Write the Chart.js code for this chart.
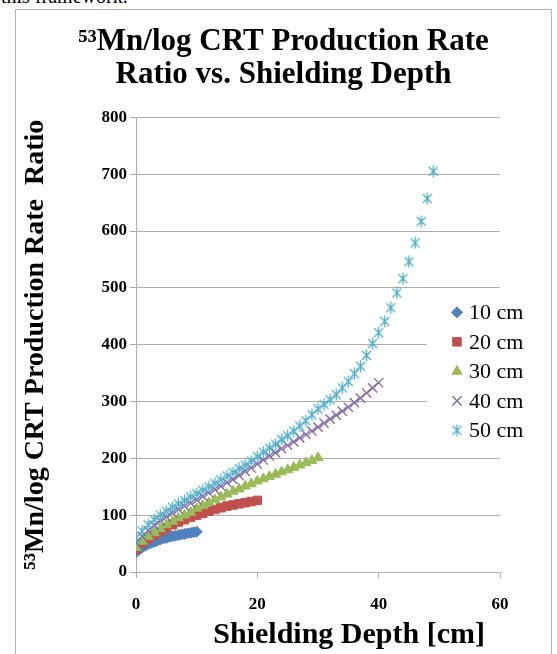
<!DOCTYPE html>
<html lang="en">
<head>
    <meta charset="UTF-8">
    <title>53Mn/log CRT Production Rate Ratio vs. Shielding Depth</title>
    <script src="https://cdn.jsdelivr.net/npm/chart.js"></script>
    <style>
        body {
            margin: 0;
            background: white;
            overflow: hidden;
            width: 557px;
            height: 654px;
            position: relative;
        }
        .prev-text {
            position: absolute;
            left: 1px;
            top: -14px;
            font-family: "Liberation Serif", serif;
            font-size: 20px;
            line-height: 20px;
            color: black;
        }
        .frame {
            position: absolute;
            left: 15px;
            top: 9px;
            width: 535px;
            height: 700px;
            border: 1px solid #b4b4b4;
        }
        canvas {
            position: absolute;
            left: 0;
            top: 0;
        }
    </style>
</head>
<body>
    <div class="prev-text">this framework.</div>
    <div class="frame"></div>
    <canvas id="crtChart" width="557" height="654"></canvas>
    <script>
        // shielding depth [cm] and production rate ratio, one pair of arrays per sample size
        const depth10 = [0, 0.5, 1, 1.5, 2, 2.5, 3, 3.5, 4, 4.5, 5, 5.5, 6, 6.5, 7, 7.5, 8, 8.5, 9, 9.5, 10];
        const ratio10 = [35, 39, 43, 46, 49, 51, 53, 55, 57, 59, 60, 62, 63, 64, 65, 66, 67, 68, 69, 70, 71];

        const depth20 = [0, 1, 2, 3, 4, 5, 6, 7, 8, 9, 10, 11, 12, 13, 14, 15, 16, 17, 18, 19, 20];
        const ratio20 = [40, 50, 58, 65, 71, 77, 83, 88, 92, 96, 100, 103, 107, 110, 113, 116, 118, 120, 122, 124, 126];

        const depth30 = [0, 1, 2, 3, 4, 5, 6, 7, 8, 9, 10, 11, 12, 13, 14, 15, 16, 17, 18, 19, 20,
                         21, 22, 23, 24, 25, 26, 27, 28, 29, 30];
        const ratio30 = [43, 54, 62, 69, 76, 83, 89, 95, 100, 105, 112, 117, 122, 127, 132, 137, 142, 146, 151, 155, 160,
                         164, 168, 172, 176, 180, 184, 188, 192, 196, 201];

        const depth40 = [0, 1, 2, 3, 4, 5, 6, 7, 8, 9, 10, 11, 12, 13, 14, 15, 16, 17, 18, 19, 20,
                         21, 22, 23, 24, 25, 26, 27, 28, 29, 30, 31, 32, 33, 34, 35, 36, 37, 38, 39, 40];
        const ratio40 = [52, 63, 73, 82, 90, 97, 104, 110, 116, 121, 127, 133, 139, 145, 151, 157, 163, 170, 177, 183, 190,
                         197, 204, 210, 217, 223, 229, 236, 242, 248, 255, 262, 269, 276, 283, 290, 298, 306, 315, 324, 333];

        const depth50 = [0, 1, 2, 3, 4, 5, 6, 7, 8, 9, 10, 11, 12, 13, 14, 15, 16, 17, 18, 19, 20,
                         21, 22, 23, 24, 25, 26, 27, 28, 29, 30, 31, 32, 33, 34, 35, 36, 37, 38, 39, 40,
                         41, 42, 43, 44, 45, 46, 47, 48, 49];
        const ratio50 = [60, 72, 83, 92, 100, 107, 114, 120, 126, 132, 138, 144, 150, 156, 162, 169, 175, 182, 188, 195, 203,
                         211, 218, 225, 233, 240, 248, 257, 266, 277, 287, 295, 303, 312, 324, 335, 349, 362, 381, 402, 421,
                         441, 465, 491, 516, 546, 579, 617, 657, 705];

        const seriesLabels = ['10 cm', '20 cm', '30 cm', '40 cm', '50 cm'];
        const xTicks = [0, 20, 40, 60];
        const yTicks = [0, 100, 200, 300, 400, 500, 600, 700, 800];

        const serif = '"Liberation Serif", "Times New Roman", serif';
        const gridGray = '#adadad';

        function toPoints(xs, ys) {
            return xs.map((x, i) => ({ x: x, y: ys[i] }));
        }

        // Excel style asterisk marker: an x with a vertical bar through it
        function asteriskMarker(color) {
            const c = document.createElement('canvas');
            c.width = 13;
            c.height = 13;
            const g = c.getContext('2d');
            g.strokeStyle = color;
            g.lineWidth = 1.3;
            g.beginPath();
            g.moveTo(2, 2); g.lineTo(11, 11);
            g.moveTo(11, 2); g.lineTo(2, 11);
            g.moveTo(6.5, 0.5); g.lineTo(6.5, 12.5);
            g.stroke();
            return c;
        }

        const legendBox = {
            id: 'legendBox',
            afterDatasetsDraw(chart) {
                const c = chart.ctx;
                const area = chart.chartArea;
                const left = area.right - 73;
                const top = area.top + 179;
                c.save();
                c.fillStyle = '#ffffff';
                c.fillRect(left, top, 75, 155);
                chart.data.datasets.forEach((ds, i) => {
                    const y = top + 16 + i * 29.5;
                    c.fillStyle = ds.backgroundColor;
                    c.strokeStyle = ds.borderColor;
                    c.lineWidth = ds.pointBorderWidth;
                    Chart.helpers.drawPoint(c, {
                        pointStyle: ds.pointStyle,
                        radius: ds.pointRadius,
                        borderWidth: ds.pointBorderWidth,
                        rotation: 0
                    }, left + 30, y);
                    c.fillStyle = '#000';
                    c.font = '22px ' + serif;
                    c.textAlign = 'left';
                    c.textBaseline = 'middle';
                    c.fillText(ds.label, left + 42, y + 1);
                });
                c.restore();
            }
        };

        const ctx = document.getElementById('crtChart').getContext('2d');
        const crtChart = new Chart(ctx, {
            type: 'scatter',
            data: {
                datasets: [
                    { label: seriesLabels[0], data: toPoints(depth10, ratio10), pointStyle: 'rectRot', pointRadius: 5.5,
                      backgroundColor: '#4F81BD', borderColor: '#4F81BD', pointBorderWidth: 1, order: 5 },
                    { label: seriesLabels[1], data: toPoints(depth20, ratio20), pointStyle: 'rect', pointRadius: 6,
                      backgroundColor: '#C0504D', borderColor: '#C0504D', pointBorderWidth: 1, order: 4 },
                    { label: seriesLabels[2], data: toPoints(depth30, ratio30), pointStyle: 'triangle', pointRadius: 5.8,
                      backgroundColor: '#9BBB59', borderColor: '#9BBB59', pointBorderWidth: 1, order: 3 },
                    { label: seriesLabels[3], data: toPoints(depth40, ratio40), pointStyle: 'crossRot', pointRadius: 6.5,
                      backgroundColor: '#8064A2', borderColor: '#8064A2', pointBorderWidth: 1.3, order: 2 },
                    { label: seriesLabels[4], data: toPoints(depth50, ratio50), pointStyle: asteriskMarker('#4BACC6'), pointRadius: 6,
                      backgroundColor: '#4BACC6', borderColor: '#4BACC6', pointBorderWidth: 1.3, order: 1 }
                ]
            },
            options: {
                responsive: false,
                animation: false,
                layout: { padding: { left: 10, right: 0, top: 0, bottom: 0 } },
                plugins: {
                    legend: { display: false },
                    tooltip: { enabled: false },
                    title: {
                        display: true,
                        text: ['⁵³Mn/log CRT Production Rate', 'Ratio vs. Shielding Depth'],
                        color: '#000',
                        font: { family: serif, size: 31, weight: 'bold', lineHeight: 1.07 },
                        padding: { top: 25, bottom: 26 }
                    }
                },
                scales: {
                    x: {
                        type: 'linear',
                        min: xTicks[0],
                        max: xTicks[xTicks.length - 1],
                        afterBuildTicks: axis => { axis.ticks = xTicks.map(v => ({ value: v })); },
                        afterFit: axis => { axis.height = 82; },
                        ticks: { color: '#000', padding: 16, font: { family: serif, size: 17, weight: 'bold' } },
                        grid: { drawOnChartArea: false, color: gridGray, tickLength: 6 },
                        border: { color: gridGray },
                        title: {
                            display: true,
                            text: 'Shielding Depth [cm]  ',
                            align: 'end',
                            color: '#000',
                            font: { family: serif, size: 30, weight: 'bold' },
                            padding: { top: 0, bottom: 1 }
                        }
                    },
                    y: {
                        min: yTicks[0],
                        max: yTicks[yTicks.length - 1],
                        afterBuildTicks: axis => { axis.ticks = yTicks.map(v => ({ value: v })); },
                        afterFit: axis => { axis.width = 126; },
                        ticks: { color: '#000', padding: 3, font: { family: serif, size: 17, weight: 'bold' } },
                        grid: { color: gridGray, tickLength: 6 },
                        border: { color: gridGray },
                        title: {
                            display: true,
                            text: '⁵³Mn/log CRT Production Rate  Ratio',
                            color: '#000',
                            font: { family: serif, size: 28, weight: 'bold' },
                            padding: { top: 9, bottom: 0 }
                        }
                    },
                    // empty right-hand space where the legend hangs out of the plot
                    yRight: {
                        position: 'right',
                        min: yTicks[0],
                        max: yTicks[yTicks.length - 1],
                        afterFit: axis => { axis.width = 57; },
                        ticks: { display: false },
                        grid: { drawOnChartArea: false, drawTicks: false },
                        border: { display: false }
                    }
                }
            },
            plugins: [legendBox]
        });
    </script>
</body>
</html>
